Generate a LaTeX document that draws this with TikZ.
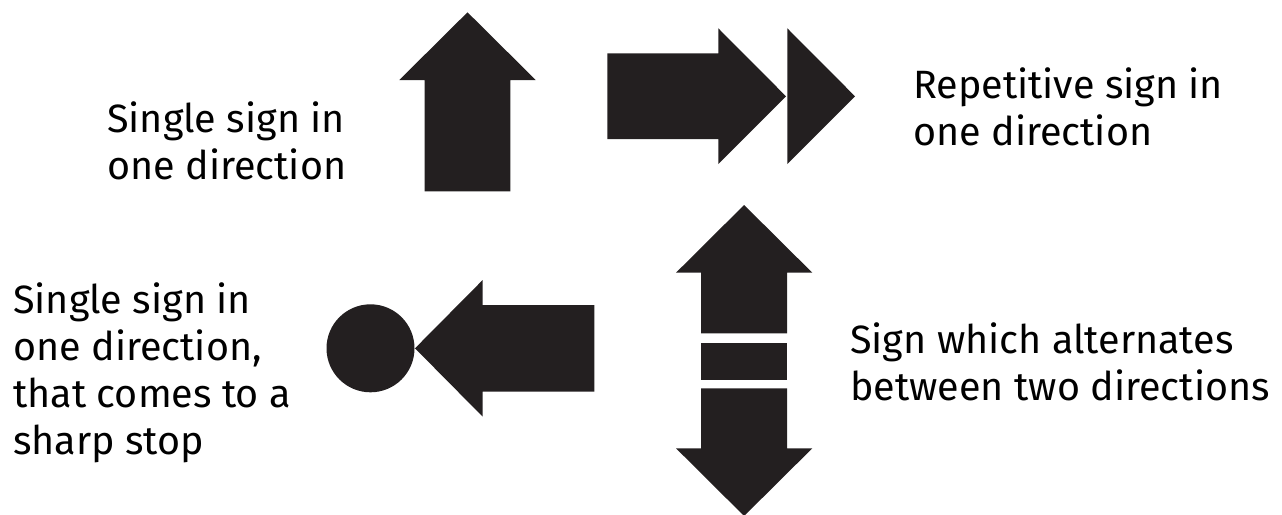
\documentclass[tikz,border=0pt]{standalone}
\usepackage{fontspec}
\setmainfont{Fira Sans}
\definecolor{ink}{HTML}{231F20}
\begin{document}
\begin{tikzpicture}[x=1pt,y=-1pt,
  sign/.style={fill=ink,draw=none},
  lbl/.style={anchor=base west,inner sep=0pt,align=left,font=\fontsize{39.5}{47}\selectfont}]
\useasboundingbox (0,0) rectangle (1282,514);
% up arrow
\fill[sign] (424.7,191.3) -- (424.7,80) -- (399.3,80) -- (467.5,12.3) -- (535.7,80) -- (510.3,80) -- (510.3,191.3) -- cycle;
% right arrow + triangle
\fill[sign] (607.3,53.3) -- (718.3,53.3) -- (718.3,28.3) -- (786,96.3) -- (718.3,164) -- (718.3,139) -- (607.3,139) -- cycle;
\fill[sign] (787.3,28.3) -- (855,96.3) -- (787.3,164) -- cycle;
% left arrow with stop
\fill[sign] (370.5,348.3) circle[radius=44];
\fill[sign] (415,348.3) -- (482.7,280) -- (482.7,305) -- (594.3,305) -- (594.3,391.7) -- (482.7,391.7) -- (482.7,416.7) -- cycle;
% alternating arrow
\fill[sign] (744.1,205) -- (812.3,272.7) -- (787,272.7) -- (787,333.3) -- (701,333.3) -- (701,272.7) -- (676,272.7) -- cycle;
\fill[sign] (701,343.3) rectangle (787,380);
\fill[sign] (701,388.3) -- (787,388.3) -- (787,448.3) -- (812.3,448.3) -- (744.1,516) -- (676,448.3) -- (701,448.3) -- cycle;
% labels (anchor = baseline of last line)
\node[lbl] (t1) at (107,179) {Single sign in\\one direction};
\node[lbl] (t2) at (913,145) {Repetitive sign in\\one direction};
\node[lbl] (t3) at (13,454) {Single sign in\\one direction,\\that comes to a\\sharp stop};
\node[lbl] (t4) at (850,400) {Sign which alternates\\between two directions};
\end{tikzpicture}
\end{document}
